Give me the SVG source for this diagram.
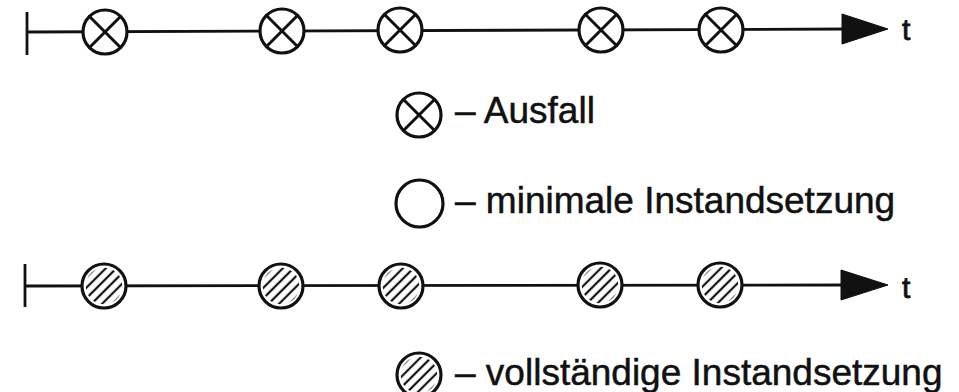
<svg xmlns="http://www.w3.org/2000/svg" xmlns:xlink="http://www.w3.org/1999/xlink" width="959" height="392" viewBox="0 0 959 392">
  <style>
    .axis { stroke: #111; stroke-width: 2.8; fill: none; }
    .head { fill: #111; stroke: #111; stroke-width: 1; stroke-linejoin: round; }
    .ring { stroke: #111; stroke-width: 3.2; fill: #fff; }
    .cross { stroke: #111; stroke-width: 3; stroke-linecap: round; }
    .hatch { fill: url(#hatch); }
    .lbl { font-family: "Liberation Sans", Arial, Helvetica, sans-serif; font-size: 37px; fill: #111; stroke: #111; stroke-width: 0.5; }
    .tlbl { font-family: "Liberation Sans", Arial, Helvetica, sans-serif; font-size: 30px; fill: #111; stroke: #111; stroke-width: 0.8; }
  </style>
  <defs>
    <pattern id="hatch" patternUnits="userSpaceOnUse" width="7.5" height="7.5" patternTransform="rotate(-45)">
      <rect width="7.5" height="7.5" fill="#fff"/>
      <line x1="0" y1="3.75" x2="7.5" y2="3.75" stroke="#111" stroke-width="2.2"/>
    </pattern>
    <!-- failure: circle with a diagonal cross -->
    <g id="fail">
      <circle class="ring" r="22"/>
      <line class="cross" x1="-15.5" y1="-15.5" x2="15.5" y2="15.5"/>
      <line class="cross" x1="-15.5" y1="15.5" x2="15.5" y2="-15.5"/>
    </g>
    <!-- complete repair: hatched circle -->
    <g id="full">
      <circle class="ring" r="22"/>
      <circle class="hatch" r="18.3"/>
    </g>
    <!-- minimal repair: plain circle -->
    <g id="minimal">
      <circle class="ring" r="23.5" fill="none"/>
    </g>
  </defs>

  <rect width="959" height="392" fill="#fff"/>

  <!-- time axes with start ticks and arrowheads -->
  <g id="connectors">
    <line class="axis" x1="27" y1="12" x2="27" y2="55"/>
    <path class="axis" d="M27,32 L850,29"/>
    <polygon class="head" points="842,14 888,29 842,44"/>
    <line class="axis" x1="25" y1="264" x2="25" y2="307"/>
    <path class="axis" d="M25,286 L850,285"/>
    <polygon class="head" points="841,270 888,285 841,300"/>
  </g>

  <!-- upper axis: failure events -->
  <g id="top-1"><use xlink:href="#fail" x="105" y="32"/></g>
  <g id="top-2"><use xlink:href="#fail" x="282" y="31"/></g>
  <g id="top-3"><use xlink:href="#fail" x="400" y="30"/></g>
  <g id="top-4"><use xlink:href="#fail" x="601" y="30"/></g>
  <g id="top-5"><use xlink:href="#fail" x="721" y="30"/></g>
  <g id="top-t"><text class="tlbl" x="902" y="40">t</text></g>

  <!-- lower axis: complete repairs -->
  <g id="bottom-1"><use xlink:href="#full" x="104" y="286"/></g>
  <g id="bottom-2"><use xlink:href="#full" x="281" y="286"/></g>
  <g id="bottom-3"><use xlink:href="#full" x="401" y="286"/></g>
  <g id="bottom-4"><use xlink:href="#full" x="600" y="285"/></g>
  <g id="bottom-5"><use xlink:href="#full" x="720" y="285"/></g>
  <g id="bottom-t"><text class="tlbl" x="902" y="298">t</text></g>

  <!-- legend -->
  <g id="legend-fail">
    <use xlink:href="#fail" x="419" y="115"/>
    <text class="lbl" x="455" y="123">– Ausfall</text>
  </g>
  <g id="legend-minimal">
    <use xlink:href="#minimal" x="419.5" y="203.5"/>
    <text class="lbl" x="455" y="213">– minimale Instandsetzung</text>
  </g>
  <g id="legend-full">
    <use xlink:href="#full" x="419" y="375"/>
    <text class="lbl" x="455" y="385">– vollständige Instandsetzung</text>
  </g>
</svg>
